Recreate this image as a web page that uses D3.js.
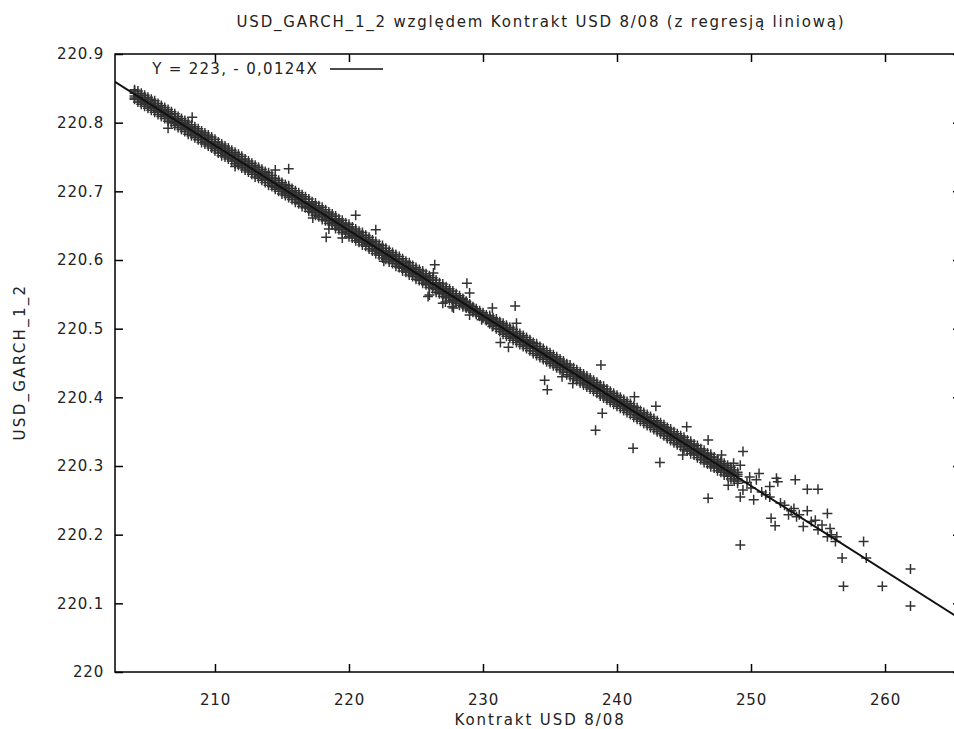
<!DOCTYPE html>
<html>
<head>
<meta charset="utf-8">
<script src="https://cdn.jsdelivr.net/npm/d3@7"></script>
<style>
  body { margin: 0; background: #fff; }
  svg { display: block; }
  text { font-family: "DejaVu Sans", Verdana, sans-serif; fill: #222; }
</style>
</head>
<body>
<div id="chart"></div>
<script>
// dense band: x, then the y values stacked at that x
var band = [
  [204.0, 220.848, 220.846, 220.843, 220.839, 220.836, 220.834],
  [204.5, 220.843, 220.840, 220.837, 220.833, 220.830, 220.827],
  [205.0, 220.837, 220.834, 220.831, 220.827, 220.824, 220.821],
  [205.5, 220.832, 220.828, 220.825, 220.821, 220.818, 220.815],
  [206.0, 220.825, 220.822, 220.819, 220.815, 220.812, 220.809],
  [206.5, 220.819, 220.816, 220.813, 220.809, 220.806, 220.802],
  [207.0, 220.813, 220.809, 220.806, 220.802, 220.799, 220.796],
  [207.5, 220.806, 220.803, 220.800, 220.796, 220.793, 220.790],
  [208.0, 220.801, 220.797, 220.794, 220.790, 220.787, 220.783],
  [208.5, 220.794, 220.791, 220.788, 220.784, 220.781, 220.778],
  [209.0, 220.788, 220.785, 220.782, 220.778, 220.775, 220.771],
  [209.5, 220.782, 220.779, 220.776, 220.772, 220.769, 220.766],
  [210.0, 220.776, 220.772, 220.769, 220.765, 220.762, 220.759],
  [210.5, 220.769, 220.766, 220.763, 220.759, 220.756, 220.752],
  [211.0, 220.763, 220.760, 220.757, 220.753, 220.750, 220.747],
  [211.5, 220.757, 220.754, 220.751, 220.747, 220.744, 220.740],
  [212.0, 220.751, 220.747, 220.744, 220.740, 220.737, 220.734],
  [212.5, 220.744, 220.741, 220.738, 220.734, 220.731, 220.728],
  [213.0, 220.738, 220.735, 220.732, 220.728, 220.725, 220.721],
  [213.5, 220.732, 220.729, 220.726, 220.722, 220.719, 220.716],
  [214.0, 220.727, 220.723, 220.720, 220.716, 220.713, 220.709],
  [214.5, 220.719, 220.716, 220.713, 220.709, 220.706, 220.703],
  [215.0, 220.713, 220.710, 220.707, 220.703, 220.700, 220.696],
  [215.5, 220.708, 220.704, 220.701, 220.697, 220.694, 220.691],
  [216.0, 220.701, 220.698, 220.695, 220.691, 220.688, 220.684],
  [216.5, 220.695, 220.692, 220.689, 220.685, 220.682, 220.678],
  [217.0, 220.689, 220.685, 220.682, 220.678, 220.675, 220.671],
  [217.5, 220.683, 220.679, 220.676, 220.672, 220.669, 220.665],
  [218.0, 220.677, 220.673, 220.670, 220.666, 220.663, 220.659],
  [218.5, 220.670, 220.667, 220.664, 220.660, 220.657, 220.653],
  [219.0, 220.664, 220.660, 220.657, 220.653, 220.650, 220.646],
  [219.5, 220.658, 220.654, 220.651, 220.647, 220.644, 220.640],
  [220.0, 220.652, 220.648, 220.645, 220.641, 220.638, 220.634],
  [220.5, 220.645, 220.642, 220.639, 220.635, 220.632, 220.628],
  [221.0, 220.640, 220.636, 220.633, 220.629, 220.626, 220.622],
  [221.5, 220.633, 220.630, 220.627, 220.623, 220.620, 220.616],
  [222.0, 220.627, 220.623, 220.620, 220.616, 220.613, 220.609],
  [222.5, 220.621, 220.617, 220.614, 220.610, 220.607, 220.603],
  [223.0, 220.614, 220.611, 220.608, 220.604, 220.601, 220.597],
  [223.5, 220.608, 220.605, 220.602, 220.598, 220.595, 220.591],
  [224.0, 220.602, 220.598, 220.595, 220.591, 220.588, 220.584],
  [224.5, 220.596, 220.592, 220.589, 220.585, 220.582, 220.578],
  [225.0, 220.589, 220.586, 220.583, 220.579, 220.576, 220.572],
  [225.5, 220.584, 220.580, 220.577, 220.573, 220.570, 220.566],
  [226.0, 220.577, 220.574, 220.571, 220.567, 220.564, 220.560],
  [226.5, 220.571, 220.567, 220.564, 220.560, 220.557, 220.553],
  [227.0, 220.565, 220.561, 220.558, 220.554, 220.551, 220.547],
  [227.5, 220.558, 220.555, 220.552, 220.548, 220.545, 220.541],
  [228.0, 220.551, 220.548, 220.546, 220.542, 220.540, 220.537],
  [228.5, 220.544, 220.542, 220.540, 220.536, 220.534, 220.532],
  [229.0, 220.536, 220.534, 220.533, 220.529, 220.528, 220.526],
  [229.5, 220.529, 220.527, 220.526, 220.524, 220.523, 220.521],
  [230.0, 220.523, 220.521, 220.520, 220.518, 220.517, 220.515],
  [230.5, 220.519, 220.517, 220.515, 220.511, 220.509, 220.507],
  [231.0, 220.514, 220.511, 220.509, 220.505, 220.503, 220.500],
  [231.5, 220.508, 220.505, 220.502, 220.498, 220.495, 220.492],
  [232.0, 220.502, 220.499, 220.496, 220.492, 220.489, 220.486],
  [232.5, 220.496, 220.493, 220.490, 220.486, 220.483, 220.480],
  [233.0, 220.490, 220.487, 220.484, 220.480, 220.477, 220.474],
  [233.5, 220.484, 220.481, 220.478, 220.474, 220.471, 220.468],
  [234.0, 220.478, 220.474, 220.471, 220.467, 220.464, 220.461],
  [234.5, 220.471, 220.468, 220.465, 220.461, 220.458, 220.455],
  [235.0, 220.465, 220.462, 220.459, 220.455, 220.452, 220.449],
  [235.5, 220.459, 220.456, 220.453, 220.449, 220.446, 220.443],
  [236.0, 220.453, 220.450, 220.447, 220.443, 220.440, 220.437],
  [236.5, 220.447, 220.443, 220.440, 220.436, 220.433, 220.430],
  [237.0, 220.440, 220.437, 220.434, 220.430, 220.427, 220.424],
  [237.5, 220.434, 220.431, 220.428, 220.424, 220.421, 220.418],
  [238.0, 220.428, 220.425, 220.422, 220.418, 220.415, 220.412],
  [238.5, 220.422, 220.419, 220.416, 220.412, 220.409, 220.406],
  [239.0, 220.416, 220.412, 220.409, 220.405, 220.402, 220.399],
  [239.5, 220.409, 220.406, 220.403, 220.399, 220.396, 220.393],
  [240.0, 220.403, 220.400, 220.397, 220.393, 220.390, 220.387],
  [240.5, 220.397, 220.394, 220.391, 220.387, 220.384, 220.381],
  [241.0, 220.391, 220.388, 220.385, 220.381, 220.378, 220.375],
  [241.5, 220.385, 220.381, 220.378, 220.374, 220.371, 220.368],
  [242.0, 220.378, 220.375, 220.372, 220.368, 220.365, 220.362],
  [242.5, 220.372, 220.369, 220.366, 220.362, 220.359, 220.356],
  [243.0, 220.366, 220.363, 220.360, 220.356, 220.353, 220.350],
  [243.5, 220.360, 220.357, 220.354, 220.350, 220.347, 220.344],
  [244.0, 220.354, 220.350, 220.347, 220.343, 220.340, 220.337],
  [244.5, 220.347, 220.344, 220.341, 220.337, 220.334, 220.331],
  [245.0, 220.342, 220.338, 220.335, 220.331, 220.328, 220.324],
  [245.5, 220.336, 220.332, 220.329, 220.325, 220.322, 220.318],
  [246.0, 220.330, 220.326, 220.323, 220.319, 220.316, 220.312],
  [246.5, 220.323, 220.319, 220.316, 220.312, 220.309, 220.305],
  [247.0, 220.317, 220.313, 220.310, 220.306, 220.303, 220.299],
  [247.5, 220.310, 220.307, 220.304, 220.300, 220.297, 220.293],
  [248.0, 220.304, 220.301, 220.298, 220.294, 220.291, 220.287],
  [248.5, 220.298, 220.295, 220.292, 220.288, 220.285, 220.281],
  [249.0, 220.291, 220.288, 220.285, 220.281, 220.278, 220.275]
];

// the same band, columns in between the ones above
var bandMid = [
  [204.25, 220.846, 220.842, 220.838, 220.834, 220.830],
  [204.75, 220.840, 220.836, 220.832, 220.828, 220.824],
  [205.25, 220.834, 220.830, 220.826, 220.822, 220.818],
  [205.75, 220.828, 220.824, 220.820, 220.816, 220.812],
  [206.25, 220.822, 220.818, 220.814, 220.810, 220.806],
  [206.75, 220.816, 220.812, 220.808, 220.804, 220.800],
  [207.25, 220.809, 220.805, 220.801, 220.797, 220.793],
  [207.75, 220.803, 220.799, 220.795, 220.791, 220.787],
  [208.25, 220.797, 220.793, 220.789, 220.785, 220.781],
  [208.75, 220.791, 220.787, 220.783, 220.779, 220.775],
  [209.25, 220.785, 220.781, 220.777, 220.773, 220.769],
  [209.75, 220.779, 220.775, 220.771, 220.767, 220.763],
  [210.25, 220.772, 220.768, 220.764, 220.760, 220.756],
  [210.75, 220.766, 220.762, 220.758, 220.754, 220.750],
  [211.25, 220.760, 220.756, 220.752, 220.748, 220.744],
  [211.75, 220.754, 220.750, 220.746, 220.742, 220.738],
  [212.25, 220.747, 220.743, 220.739, 220.735, 220.731],
  [212.75, 220.741, 220.737, 220.733, 220.729, 220.725],
  [213.25, 220.735, 220.731, 220.727, 220.723, 220.719],
  [213.75, 220.729, 220.725, 220.721, 220.717, 220.713],
  [214.25, 220.723, 220.719, 220.715, 220.711, 220.707],
  [214.75, 220.716, 220.712, 220.708, 220.704, 220.700],
  [215.25, 220.710, 220.706, 220.702, 220.698, 220.694],
  [215.75, 220.704, 220.700, 220.696, 220.692, 220.688],
  [216.25, 220.698, 220.694, 220.690, 220.686, 220.682],
  [216.75, 220.692, 220.688, 220.684, 220.680, 220.676],
  [217.25, 220.685, 220.681, 220.677, 220.673, 220.669],
  [217.75, 220.679, 220.675, 220.671, 220.667, 220.663],
  [218.25, 220.673, 220.669, 220.665, 220.661, 220.657],
  [218.75, 220.667, 220.663, 220.659, 220.655, 220.651],
  [219.25, 220.660, 220.656, 220.652, 220.648, 220.644],
  [219.75, 220.654, 220.650, 220.646, 220.642, 220.638],
  [220.25, 220.648, 220.644, 220.640, 220.636, 220.632],
  [220.75, 220.642, 220.638, 220.634, 220.630, 220.626],
  [221.25, 220.636, 220.632, 220.628, 220.624, 220.620],
  [221.75, 220.629, 220.625, 220.621, 220.617, 220.613],
  [222.25, 220.623, 220.619, 220.615, 220.611, 220.607],
  [222.75, 220.617, 220.613, 220.609, 220.605, 220.601],
  [223.25, 220.611, 220.607, 220.603, 220.599, 220.595],
  [223.75, 220.605, 220.601, 220.597, 220.593, 220.589],
  [224.25, 220.598, 220.594, 220.590, 220.586, 220.582],
  [224.75, 220.592, 220.588, 220.584, 220.580, 220.576],
  [225.25, 220.586, 220.582, 220.578, 220.574, 220.570],
  [225.75, 220.580, 220.576, 220.572, 220.568, 220.564],
  [226.25, 220.574, 220.570, 220.566, 220.562, 220.558],
  [226.75, 220.567, 220.563, 220.559, 220.555, 220.551],
  [227.25, 220.561, 220.557, 220.553, 220.549, 220.545],
  [227.75, 220.555, 220.551, 220.547, 220.543, 220.539],
  [228.25, 220.548, 220.545, 220.541, 220.537, 220.534],
  [228.75, 220.540, 220.538, 220.535, 220.532, 220.530],
  [229.25, 220.532, 220.530, 220.528, 220.526, 220.524],
  [229.75, 220.526, 220.524, 220.522, 220.520, 220.518],
  [230.25, 220.520, 220.518, 220.516, 220.514, 220.512],
  [230.75, 220.516, 220.513, 220.510, 220.507, 220.504],
  [231.25, 220.510, 220.507, 220.503, 220.499, 220.496],
  [231.75, 220.505, 220.501, 220.497, 220.493, 220.489],
  [232.25, 220.499, 220.495, 220.491, 220.487, 220.483],
  [232.75, 220.493, 220.489, 220.485, 220.481, 220.477],
  [233.25, 220.487, 220.483, 220.479, 220.475, 220.471],
  [233.75, 220.480, 220.476, 220.472, 220.468, 220.464],
  [234.25, 220.474, 220.470, 220.466, 220.462, 220.458],
  [234.75, 220.468, 220.464, 220.460, 220.456, 220.452],
  [235.25, 220.462, 220.458, 220.454, 220.450, 220.446],
  [235.75, 220.456, 220.452, 220.448, 220.444, 220.440],
  [236.25, 220.449, 220.445, 220.441, 220.437, 220.433],
  [236.75, 220.443, 220.439, 220.435, 220.431, 220.427],
  [237.25, 220.437, 220.433, 220.429, 220.425, 220.421],
  [237.75, 220.431, 220.427, 220.423, 220.419, 220.415],
  [238.25, 220.425, 220.421, 220.417, 220.413, 220.409],
  [238.75, 220.418, 220.414, 220.410, 220.406, 220.402],
  [239.25, 220.412, 220.408, 220.404, 220.400, 220.396],
  [239.75, 220.406, 220.402, 220.398, 220.394, 220.390],
  [240.25, 220.400, 220.396, 220.392, 220.388, 220.384],
  [240.75, 220.394, 220.390, 220.386, 220.382, 220.378],
  [241.25, 220.387, 220.383, 220.379, 220.375, 220.371],
  [241.75, 220.381, 220.377, 220.373, 220.369, 220.365],
  [242.25, 220.375, 220.371, 220.367, 220.363, 220.359],
  [242.75, 220.369, 220.365, 220.361, 220.357, 220.353],
  [243.25, 220.363, 220.359, 220.355, 220.351, 220.347],
  [243.75, 220.356, 220.352, 220.348, 220.344, 220.340],
  [244.25, 220.350, 220.346, 220.342, 220.338, 220.334],
  [244.75, 220.344, 220.340, 220.336, 220.332, 220.328],
  [245.25, 220.338, 220.334, 220.330, 220.326, 220.322],
  [245.75, 220.332, 220.328, 220.324, 220.320, 220.316],
  [246.25, 220.325, 220.321, 220.317, 220.313, 220.309],
  [246.75, 220.319, 220.315, 220.311, 220.307, 220.303],
  [247.25, 220.313, 220.309, 220.305, 220.301, 220.297],
  [247.75, 220.307, 220.303, 220.299, 220.295, 220.291],
  [248.25, 220.301, 220.297, 220.293, 220.289, 220.285],
  [248.75, 220.294, 220.290, 220.286, 220.282, 220.278]
];

// points away from the band
var outliers = [
  [206.5, 220.792], [208.3, 220.808], [211.5, 220.736], [214.5, 220.731], [215.5, 220.733],
  [217.3, 220.661], [218.3, 220.633], [218.5, 220.645], [219.5, 220.632], [220.5, 220.665],
  [222.0, 220.644], [222.6, 220.598], [225.9, 220.547], [226.0, 220.549], [226.3, 220.581],
  [226.4, 220.593], [227.0, 220.537], [227.2, 220.539], [227.7, 220.532], [227.8, 220.530],
  [228.8, 220.566], [229.0, 220.552], [229.0, 220.520], [229.9, 220.513], [230.7, 220.530],
  [230.7, 220.503], [231.3, 220.480], [231.9, 220.473], [232.4, 220.533], [232.5, 220.508],
  [234.6, 220.425], [234.8, 220.411], [235.9, 220.430], [236.7, 220.420], [238.4, 220.352],
  [238.8, 220.447], [238.9, 220.377], [241.2, 220.326], [241.3, 220.401], [242.9, 220.387],
  [243.2, 220.305], [244.9, 220.316], [245.2, 220.357], [246.8, 220.338], [246.8, 220.253],
  [247.6, 220.299], [247.8, 220.316], [248.3, 220.272], [248.7, 220.304], [249.2, 220.301],
  [249.2, 220.255], [249.2, 220.185], [249.4, 220.321], [249.4, 220.265], [249.7, 220.276],
  [249.9, 220.284], [250.0, 220.268], [250.2, 220.251], [250.4, 220.280], [250.6, 220.289],
  [250.8, 220.262], [251.1, 220.258], [251.4, 220.270], [251.4, 220.255], [251.5, 220.224],
  [251.8, 220.213], [251.9, 220.282], [252.0, 220.277], [252.2, 220.246], [252.5, 220.243],
  [252.8, 220.229], [253.0, 220.235], [253.2, 220.238], [253.3, 220.280], [253.4, 220.226],
  [253.6, 220.229], [253.9, 220.212], [254.2, 220.266], [254.2, 220.235], [254.5, 220.219],
  [254.8, 220.221], [255.0, 220.266], [255.0, 220.207], [255.3, 220.214], [255.7, 220.231],
  [255.7, 220.197], [255.9, 220.209], [256.0, 220.200], [256.3, 220.190], [256.4, 220.197],
  [256.8, 220.166], [256.9, 220.125], [258.4, 220.190], [258.6, 220.166], [259.8, 220.125],
  [261.9, 220.150], [261.9, 220.096]
];

var xTicks = [210, 220, 230, 240, 250, 260, 270];
var yTicks = [220, 220.1, 220.2, 220.3, 220.4, 220.5, 220.6, 220.7, 220.8, 220.9];
var xDomain = [202.54, 265.67];
var yDomain = [220, 220.9];
var fit = { a: 223.371, b: -0.0124 };

var titleText = 'USD_GARCH_1_2 względem Kontrakt USD 8/08 (z regresją liniową)';
var xLabelText = 'Kontrakt USD 8/08';
var yLabelText = 'USD_GARCH_1_2';
var legendText = 'Y = 223, - 0,0124X';

function draw() {
    var W = 954, H = 729;
    var pl = 115, pt = 54, pr = 961, pb = 672;

    var svg = d3.select('#chart').append('svg')
        .attr('width', W)
        .attr('height', H);

    var x = d3.scaleLinear().domain(xDomain).range([pl, pr]);
    var y = d3.scaleLinear().domain(yDomain).range([pb, pt]);

    svg.append('clipPath').attr('id', 'plot')
      .append('rect')
        .attr('x', pl).attr('y', pt)
        .attr('width', pr - pl).attr('height', pb - pt);

    // flatten band rows into points
    var pts = [];
    band.concat(bandMid).forEach(function(r) {
        for (var i = 1; i < r.length; i++) pts.push([r[0], r[i]]);
    });
    pts = pts.concat(outliers);

    var plus = 'M-5,0H5M0,-5V5';
    svg.append('g')
        .attr('clip-path', 'url(#plot)')
      .selectAll('path')
        .data(pts)
      .enter().append('path')
        .attr('d', plus)
        .attr('transform', function(d) { return 'translate(' + x(d[0]) + ',' + y(d[1]) + ')'; })
        .style('fill', 'none')
        .style('stroke', '#333')
        .style('stroke-width', 1.5);

    // regression line
    svg.append('line')
        .attr('clip-path', 'url(#plot)')
        .attr('x1', x(xDomain[0])).attr('y1', y(fit.a + fit.b * xDomain[0]))
        .attr('x2', x(xDomain[1])).attr('y2', y(fit.a + fit.b * xDomain[1]))
        .style('stroke', '#111')
        .style('stroke-width', 2);

    // axes: ticks inward on all four sides
    var tickLen = 8;
    function axisStyle(g) {
        g.select('.domain').remove();
        g.selectAll('line').style('stroke', '#000').style('stroke-width', 1.5);
        g.selectAll('text').style('font-size', '15px').style('letter-spacing', '0.8px').style('fill', '#222');
    }
    var xt = xTicks.filter(function(t) { return t >= xDomain[0] && t <= xDomain[1]; });

    svg.append('g')
        .attr('transform', 'translate(0,' + pb + ')')
        .call(d3.axisBottom(x).tickValues(xt).tickSizeInner(-tickLen).tickSizeOuter(0).tickPadding(22).tickFormat(d3.format('d')))
        .call(axisStyle);
    svg.append('g')
        .attr('transform', 'translate(0,' + pt + ')')
        .call(d3.axisTop(x).tickValues(xt).tickSizeInner(-tickLen).tickSizeOuter(0).tickFormat(''))
        .call(axisStyle);
    svg.append('g')
        .attr('transform', 'translate(' + pl + ',0)')
        .call(d3.axisLeft(y).tickValues(yTicks).tickSizeInner(-tickLen).tickSizeOuter(0).tickPadding(11)
            .tickFormat(function(d) { return d3.format('.1f')(d).replace(/\.0$/, ''); }))
        .call(axisStyle);
    svg.append('g')
        .attr('transform', 'translate(' + pr + ',0)')
        .call(d3.axisRight(y).tickValues(yTicks).tickSizeInner(-tickLen).tickSizeOuter(0).tickFormat(''))
        .call(axisStyle);

    // frame
    svg.append('rect')
        .attr('x', pl).attr('y', pt)
        .attr('width', pr - pl).attr('height', pb - pt)
        .style('fill', 'none')
        .style('stroke', '#000')
        .style('stroke-width', 1.5);

    // legend
    svg.append('text')
        .attr('x', 318).attr('y', 74)
        .attr('text-anchor', 'end')
        .style('font-size', '15px')
        .style('letter-spacing', '1.3px')
        .text(legendText);
    svg.append('line')
        .attr('x1', 330).attr('x2', 383)
        .attr('y1', 69).attr('y2', 69)
        .style('stroke', '#111')
        .style('stroke-width', 1.5);

    // titles
    svg.append('text')
        .attr('x', 541).attr('y', 27)
        .attr('text-anchor', 'middle')
        .style('font-size', '15px')
        .style('letter-spacing', '1.8px')
        .text(titleText);
    svg.append('text')
        .attr('x', 540).attr('y', 725)
        .attr('text-anchor', 'middle')
        .style('font-size', '15px')
        .style('letter-spacing', '1.9px')
        .text(xLabelText);
    svg.append('text')
        .attr('transform', 'translate(25,362) rotate(-90)')
        .attr('text-anchor', 'middle')
        .style('font-size', '15px')
        .style('letter-spacing', '2.3px')
        .text(yLabelText);
}

draw();
</script>
</body>
</html>
